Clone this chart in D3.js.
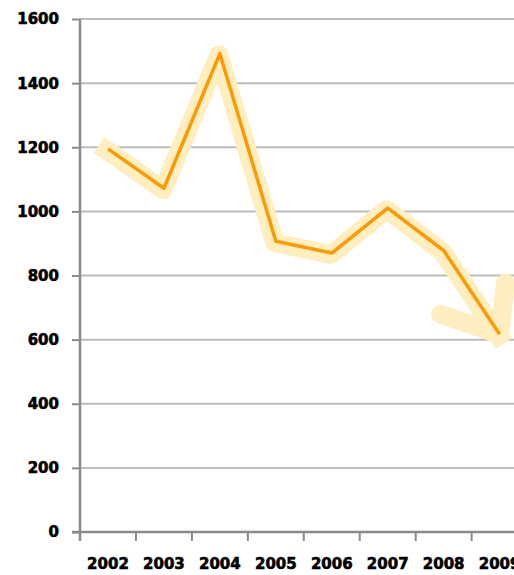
<!DOCTYPE html>
<html><head><meta charset="utf-8">
<script src="https://cdn.jsdelivr.net/npm/d3@7"></script>
<style>
html,body{margin:0;padding:0;background:#fff;overflow:hidden}
svg text{font-family:"DejaVu Sans",Verdana,sans-serif;font-weight:bold;fill:#000;stroke:#000;stroke-width:0.6px}
</style></head>
<body>
<svg id="c" width="514" height="575"></svg>
<script>
const years = ["2002","2003","2004","2005","2006","2007","2008","2009"];
const values = [1195, 1072, 1492, 907, 870, 1010, 878, 617];
const yTicks = [0, 200, 400, 600, 800, 1000, 1200, 1400, 1600];

(function () {
const svg = d3.select("#c");
const mLeft = 80, mBottom = 532, mTop = 19, step = 55.95;
const x = d3.scaleBand().domain(years).range([mLeft, mLeft + step * years.length]).padding(0);
const y = d3.scaleLinear().domain([0, 1600]).range([mBottom, mTop]);
const cx = d => x(d) + x.bandwidth() / 2;

// gridlines
svg.append("g").selectAll("line").data(yTicks.filter(t => t > 0)).join("line")
  .attr("x1", mLeft).attr("x2", 514)
  .attr("y1", d => y(d)).attr("y2", d => y(d))
  .attr("stroke", "#bdbdbd").attr("stroke-width", 2);

// y axis
const ya = svg.append("g").attr("transform", `translate(${mLeft},0)`)
  .call(d3.axisLeft(y).tickValues(yTicks).tickSize(8).tickPadding(13).tickFormat(d3.format("d")));
ya.select(".domain").remove();
ya.selectAll(".tick line").attr("stroke", "#8a8a8a").attr("stroke-width", 2);
ya.selectAll("text").attr("font-size", 15).attr("dy", "0.33em");
svg.append("line").attr("x1", mLeft).attr("x2", mLeft).attr("y1", y(1600)).attr("y2", mBottom + 9)
  .attr("stroke", "#8a8a8a").attr("stroke-width", 2.5);

// x axis
svg.append("line").attr("x1", mLeft - 8).attr("x2", 514).attr("y1", mBottom).attr("y2", mBottom)
  .attr("stroke", "#8a8a8a").attr("stroke-width", 2.5);
svg.append("g").selectAll("line").data(years).join("line")
  .attr("x1", d => x(d)).attr("x2", d => x(d)).attr("y1", mBottom).attr("y2", mBottom + 9)
  .attr("stroke", "#8a8a8a").attr("stroke-width", 2);
const xa = svg.append("g").attr("transform", `translate(0,${mBottom})`)
  .call(d3.axisBottom(x).tickSize(0).tickPadding(26));
xa.select(".domain").remove();
xa.selectAll("text").attr("font-size", 15);

// data line with glow
const pts = years.map((d, i) => [cx(d), y(values[i])]);
const line = d3.line();
svg.append("path").attr("d", line(pts)).attr("fill", "none")
  .attr("transform", "translate(-1,1.5)")
  .attr("stroke", "#ffeebf").attr("stroke-width", 19).attr("stroke-linejoin", "round").attr("stroke-linecap", "square");

// arrow head glow at the last point
const last = pts[pts.length - 1];
const arrow = [[last[0] - 59, last[1] - 20], last, [last[0] + 6, last[1] - 51]];
svg.append("path").attr("d", line(arrow)).attr("fill", "none")
  .attr("stroke", "#ffeebf").attr("stroke-width", 19).attr("stroke-linejoin", "round").attr("stroke-linecap", "round");

svg.append("path").attr("d", line(pts)).attr("fill", "none")
  .attr("stroke", "#ff9900").attr("stroke-width", 3.5).attr("stroke-linejoin", "round");
})();
</script>
</body></html>
